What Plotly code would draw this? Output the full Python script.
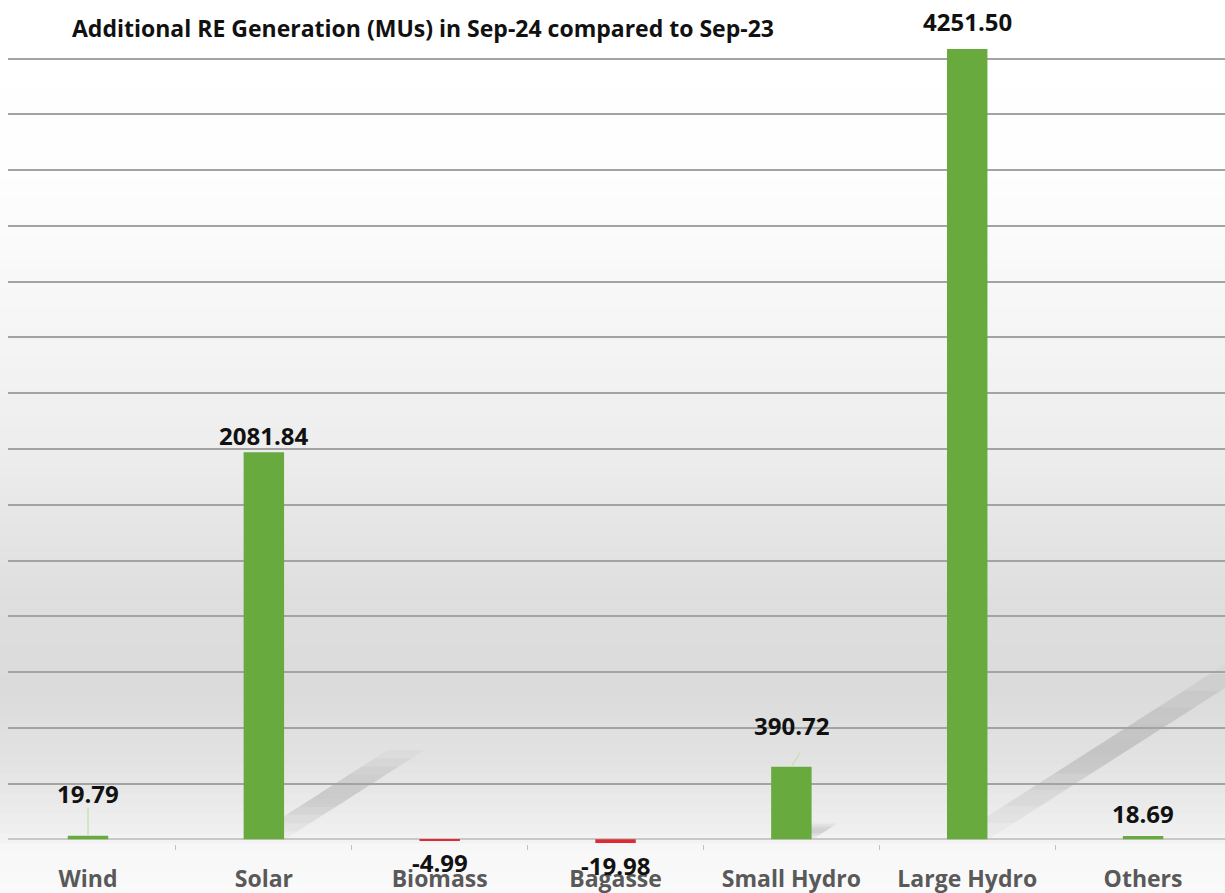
import plotly.graph_objects as go

categories = ["Wind", "Solar", "Biomass", "Bagasse", "Small Hydro", "Large Hydro", "Others"]
values = [19.79, 2081.84, -4.99, -19.98, 390.72, 4251.50, 18.69]
label_shift = [42, 17, -22, -22, 41, 28, 22]  # label offset in px
title_text = "Additional RE Generation (MUs) in Sep-24 compared to Sep-23"

GREEN = "#69aa3e"
RED = "#dd2a33"
FONT = "Open Sans"

W, H = 1225, 893
M_L, M_R, M_T, M_B = 8, 0, 40, 49
Y_MIN, Y_MAX = -25, 4300

colors = [GREEN if v >= 0 else RED for v in values]

fig = go.Figure()
fig.add_trace(go.Bar(
    x=categories, y=values, marker=dict(color=colors, line=dict(width=0)),
    width=0.23, hoverinfo="x+y",
))

shapes = []
# background gradient (pixel y -> gray level)
stops = [(0, 255), (170, 254), (300, 247), (450, 237), (600, 222), (690, 219),
         (760, 226), (835, 240), (846, 247), (893, 250)]
plot_h = H - M_T - M_B
def py_to_paper(py):
    return (H - M_B - py) / plot_h
nb = 90
for i in range(nb):
    y0 = H * i / nb
    y1 = H * (i + 1) / nb
    ym = (y0 + y1) / 2
    for (a, ga), (b, gb) in zip(stops[:-1], stops[1:]):
        if a <= ym <= b:
            g = ga + (gb - ga) * (ym - a) / (b - a)
            break
    g = int(round(g))
    shapes.append(dict(type="rect", xref="paper", yref="paper", x0=-0.02, x1=1.02,
                       y0=py_to_paper(y1 + 0.5), y1=py_to_paper(y0),
                       fillcolor=f"rgb({g},{g},{g})", line=dict(width=0), layer="below"))

# perspective shadows derived from bar values
opac = [0.03, 0.06, 0.09, 0.12, 0.15, 0.16, 0.15, 0.13, 0.10, 0.07, 0.03]
for i, v in enumerate(values):
    if v < 100:
        continue
    dx = v * 0.00038
    dy = v * 0.23
    n = len(opac)
    for k in range(n):
        t0, t1 = k / n, (k + 1) / n
        xl0 = i - 0.09 + dx * t0
        xr0 = i + 0.12 + dx * t0
        xl1 = i - 0.09 + dx * t1
        xr1 = i + 0.12 + dx * t1
        path = (f"M {xl0},{dy*t0} L {xr0},{dy*t0} L {xr1},{dy*t1} L {xl1},{dy*t1} Z")
        shapes.append(dict(type="path", xref="x", yref="y", path=path,
                           fillcolor=f"rgba(50,50,50,{opac[k]})", line=dict(width=0),
                           layer="below"))

# leader lines for small-value labels
for i in (0, 4):
    v = values[i]
    shapes.append(dict(type="line", xref="x", yref="y", x0=i, x1=i + (0.05 if i == 4 else 0),
                       y0=v, y1=v + (28 if i == 0 else 14) * 5.38,
                       line=dict(color="#c9e2b3", width=1.5)))

annotations = []
for c, v, s in zip(categories, values, label_shift):
    annotations.append(dict(x=c, y=v, xref="x", yref="y", text=f"{v:.2f}",
                            showarrow=False, yshift=s, yanchor="middle",
                            font=dict(family=FONT, size=24, color="#111111", weight="bold")))
annotations.append(dict(x=(70 - M_L) / (W - M_L - M_R), y=py_to_paper(28), xref="paper", yref="paper",
                        xanchor="left", yanchor="middle", text=title_text, showarrow=False,
                        font=dict(family=FONT, size=23, color="#111111", weight="bold")))

fig.update_layout(
    width=W, height=H,
    margin=dict(l=M_L, r=M_R, t=M_T, b=M_B, pad=0),
    paper_bgcolor="white", plot_bgcolor="rgba(0,0,0,0)",
    showlegend=False, shapes=shapes, annotations=annotations,
)
fig.update_xaxes(
    range=[-0.455, 6.466], showgrid=False, zeroline=False, showline=False,
    ticks="outside", tickson="boundaries", ticklen=5, tickcolor="#c0c0c0",
    tickfont=dict(family=FONT, size=23, color="#595959", weight="bold"),
    ticklabelstandoff=19,
)
fig.update_yaxes(
    range=[Y_MIN, Y_MAX], dtick=300, tick0=0, showticklabels=False,
    showgrid=True, gridcolor="#a3a3a3", gridwidth=1.5,
    zeroline=True, zerolinecolor="#c8c8c8", zerolinewidth=1.5, showline=False,
)

fig.write_html("out.html", config={"displayModeBar": False},
               post_script="document.body.style.margin='0';document.body.style.overflow='hidden';")
